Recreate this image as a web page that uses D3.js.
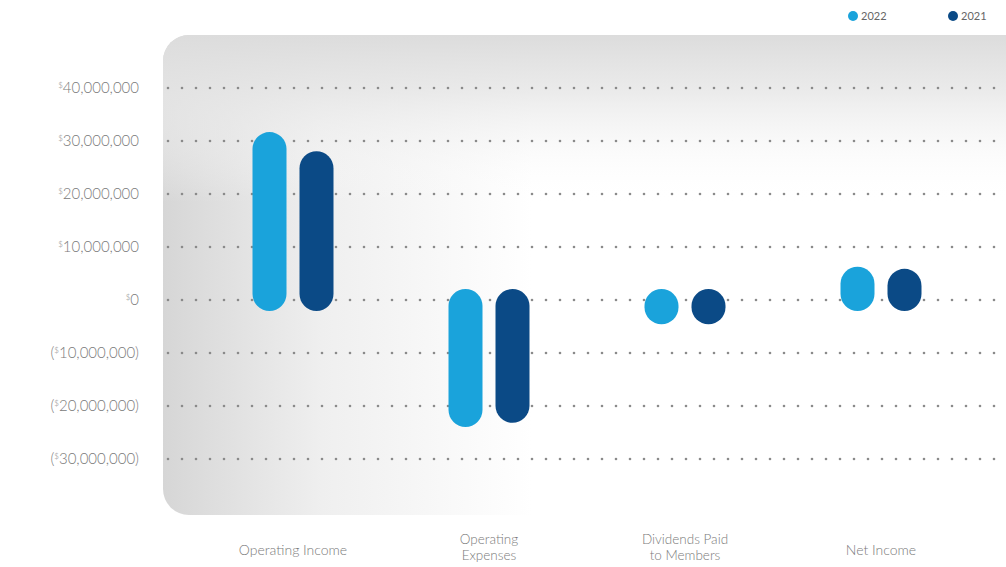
<!DOCTYPE html>
<html>
<head>
<meta charset="utf-8">
<script src="https://cdn.jsdelivr.net/npm/d3@7"></script>
<style>
  html, body { margin: 0; padding: 0; background: #fff; }
  svg { display: block; font-family: Lato, "Open Sans", sans-serif; }
</style>
</head>
<body>
<svg id="chart" width="1006" height="567"></svg>
<script>
const categories = ["Operating Income", "Operating Expenses", "Dividends Paid to Members", "Net Income"];
const categoryLines = [["Operating Income"], ["Operating", "Expenses"], ["Dividends Paid", "to Members"], ["Net Income"]];
const seriesNames = ["2022", "2021"];
const values2022 = [29600000, -21900000, -2500000, 4200000];
const values2021 = [26000000, -21100000, -2500000, 3800000];
const yTicks = [40000000, 30000000, 20000000, 10000000, 0, -10000000, -20000000, -30000000];
const colors = ["#1aa3db", "#0b4a86"];

const svg = d3.select("#chart");

const defs = svg.append("defs");
const gH = defs.append("linearGradient").attr("id", "gh").attr("x1", 0).attr("x2", 1).attr("y1", 0).attr("y2", 0);
gH.append("stop").attr("offset", "0%").attr("stop-color", "#d6d6d6");
gH.append("stop").attr("offset", "18%").attr("stop-color", "#efefef");
gH.append("stop").attr("offset", "42%").attr("stop-color", "#ffffff");
gH.append("stop").attr("offset", "100%").attr("stop-color", "#ffffff");
const gV = defs.append("linearGradient").attr("id", "gv").attr("x1", 0).attr("x2", 0).attr("y1", 0).attr("y2", 1);
gV.append("stop").attr("offset", "0%").attr("stop-color", "#dcdcdc").attr("stop-opacity", 1);
gV.append("stop").attr("offset", "12%").attr("stop-color", "#e6e6e6").attr("stop-opacity", 0.8);
gV.append("stop").attr("offset", "35%").attr("stop-color", "#ffffff").attr("stop-opacity", 0);
gV.append("stop").attr("offset", "100%").attr("stop-color", "#ffffff").attr("stop-opacity", 0);

const panel = {x: 163, y: 35, w: 880, h: 480};
svg.append("rect").attr("x", panel.x).attr("y", panel.y).attr("width", panel.w).attr("height", panel.h)
  .attr("rx", 26).attr("fill", "url(#gh)");
svg.append("rect").attr("x", panel.x).attr("y", panel.y).attr("width", panel.w).attr("height", panel.h)
  .attr("rx", 26).attr("fill", "url(#gv)");

const y = d3.scaleLinear().domain([-30000000, 40000000]).range([459, 88]);
const x = d3.scaleBand().domain(categories).range([195, 979]);
const xs = d3.scalePoint().domain(seriesNames).range([-23.5, 23.5]);

// dotted gridlines
const gridX0 = 166, gridX1 = 1006, dotStep = 14;
const dotXs = d3.range(gridX0 + 2, gridX1, dotStep);
const grid = svg.append("g");
yTicks.forEach(t => {
  grid.append("g").selectAll("circle").data(dotXs).join("circle")
    .attr("cx", d => d).attr("cy", y(t)).attr("r", 1.3).attr("fill", "#8a8a8a");
});

// y labels
function fmtParts(v) {
  const s = d3.format(",")(Math.abs(v));
  return v < 0 ? ["(", "$", s + ")"] : ["", "$", s];
}
const yAxis = svg.append("g");
yTicks.forEach(t => {
  const p = fmtParts(t);
  const txt = yAxis.append("text").attr("x", 139).attr("y", y(t) + 5)
    .attr("text-anchor", "end").attr("fill", "#7a7a7a").attr("font-size", 15).attr("font-weight", 300);
  if (p[0]) txt.append("tspan").text(p[0]);
  txt.append("tspan").attr("font-size", 8).attr("dy", -5).text(p[1]);
  txt.append("tspan").attr("dy", 5).text(p[2]);
});

// pill bars
const pad = 11, bw = 34;
const data = [];
categories.forEach((c, i) => {
  data.push({cat: c, s: "2022", v: values2022[i], col: colors[0]});
  data.push({cat: c, s: "2021", v: values2021[i], col: colors[1]});
});
svg.append("g").selectAll("rect").data(data).join("rect")
  .attr("x", d => x(d.cat) + x.bandwidth() / 2 + xs(d.s) - bw / 2)
  .attr("y", d => y(Math.max(d.v, 0)) - pad)
  .attr("width", bw)
  .attr("height", d => Math.abs(y(d.v) - y(0)) + 2 * pad)
  .attr("rx", bw / 2)
  .attr("ry", d => Math.min(bw / 2, (Math.abs(y(d.v) - y(0)) + 2 * pad) / 2))
  .attr("fill", d => d.col);

// x labels
const xl = svg.append("g");
categoryLines.forEach((lines, i) => {
  const cx = x(categories[i]) + x.bandwidth() / 2;
  const t = xl.append("text").attr("x", cx).attr("text-anchor", "middle")
    .attr("fill", "#7a7a7a").attr("font-size", lines.length === 1 ? 14 : 13.5).attr("font-weight", 300)
    .attr("y", lines.length === 1 ? 555 : 544);
  lines.forEach((l, j) => t.append("tspan").attr("x", cx).attr("dy", j === 0 ? 0 : 16).text(l));
});

// legend
const legend = svg.append("g");
const legX = [853, 953];
seriesNames.forEach((s, i) => {
  legend.append("circle").attr("cx", legX[i]).attr("cy", 16).attr("r", 5).attr("fill", colors[i]);
  legend.append("text").attr("x", legX[i] + 8).attr("y", 20).attr("font-size", 11)
    .attr("fill", "#666").text(s);
});
</script>
</body>
</html>
